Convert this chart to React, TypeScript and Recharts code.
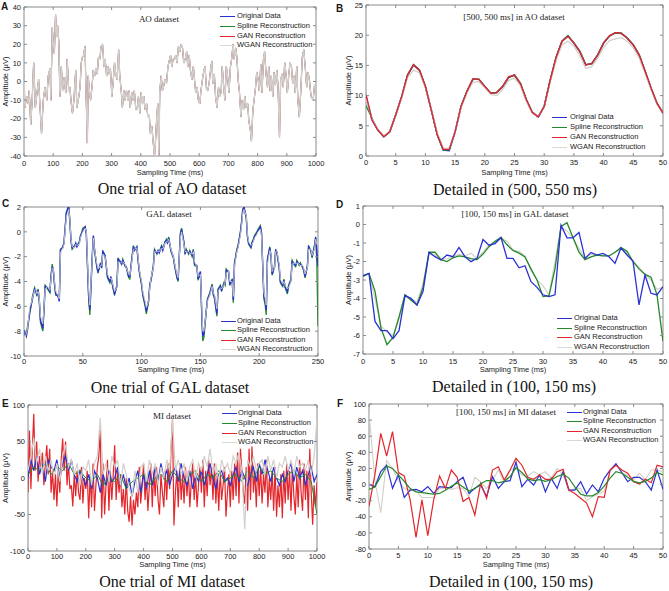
import { LineChart, Line, XAxis, YAxis, ReferenceArea } from 'recharts'

const SANS = '"Liberation Sans", Arial, sans-serif'
const SERIF = '"Liberation Serif", "Times New Roman", serif'
const INK = '#1a1a1a'
const FRAME = '#8a8a8a'
const BLUE = '#2a32d2'
const GREEN = '#24892a'
const RED = '#e3262b'
const GRAY = '#d3cfca'

// ---- AO dataset, one trial (ms, µV) ----
const aoTime = [
  0, 3, 9, 15, 18, 23, 28, 33, 39, 43,
  50, 55, 60, 66, 72, 78, 83, 89, 92, 97,
  100, 104, 108, 112, 115, 119, 123, 128, 132, 137,
  143, 148, 153, 157, 162, 166, 171, 177, 181, 186,
  192, 196, 200, 204, 209, 212, 217, 220, 224, 228,
  233, 237, 242, 246, 251, 255, 260, 264, 269, 274,
  278, 283, 287, 292, 296, 301, 305, 310, 314, 319,
  324, 328, 333, 337, 342, 346, 351, 356, 360, 364,
  369, 374, 378, 383, 388, 392, 397, 401, 406, 410,
  415, 420, 424, 429, 433, 438, 442, 447, 450, 454,
  458, 462, 465, 470, 474, 479, 483, 488, 493, 497,
  502, 506, 511, 515, 520, 524, 529, 534, 538, 543,
  547, 552, 557, 561, 566, 570, 575, 580, 584, 588,
  593, 597, 602, 606, 611, 616, 620, 625, 629, 634,
  638, 643, 647, 652, 656, 661, 666, 670, 675, 679,
  684, 688, 693, 697, 702, 707, 711, 716, 720, 725,
  729, 734, 738, 743, 747, 752, 756, 761, 766, 770,
  775, 779, 784, 788, 793, 797, 802, 806, 811, 815,
  820, 824, 829, 834, 838, 843, 847, 852, 856, 861,
  866, 870, 875, 879, 884, 888, 893, 898, 902, 907,
  911, 916, 920, 925, 929, 934, 938, 943, 948, 953,
  958, 963, 968, 973, 978, 983, 990, 995, 1000,
]
const aoAmp = [
  4, -14, -8, -12, -5, -23, -10, 10, -14, -8,
  1, -14, -28, -10, -3, -10, 3, 7, -10, 29,
  21, 15, 36, 24, 30, 22, -8, 8, -5, 2,
  -6, 12, -5, -3, -12, -17, -10, 6, -14, -10,
  -3, 10, 13, 14, 19, -3, -33, 3, -5, -10,
  -3, 6, 3, 7, 4, 13, 12, 19, 20, 8,
  12, 3, 8, 4, 7, -8, -1, 10, 4, 1,
  17, 3, -5, -14, -5, -10, -5, -10, -5, -14,
  -6, -10, -5, -15, -15, -8, -17, -6, -12, -8,
  -15, -12, -19, -18, -28, -24, -32, -40, -33, -21,
  -12, -40, -5, 3, -5, -2, 1, -1, 8, 11,
  14, 8, 12, 12, 14, 10, 19, 16, 20, 18,
  10, 12, 16, 8, 14, 6, 1, 8, 1, -6,
  -3, -10, -12, -5, 1, 6, 8, -4, -5, -1,
  5, 11, -1, 4, -8, -14, -3, -8, -6, 8,
  -3, -10, 8, 3, -6, 8, 12, 20, 12, 18,
  13, 0, -6, -19, -10, -15, -8, -14, -12, -21,
  -26, -32, -15, -10, -3, 5, 1, -5, 9, -6,
  12, 16, 4, -3, 8, -5, 3, -8, 5, -2,
  6, -3, -30, 1, 4, -3, 10, 3, -6, 4,
  10, 8, -1, 3, -6, 8, -10, -19, -5, 13,
  17, 8, -3, 5, 0, -8, -10, -2, -3,
]

// ---- AO detail, 1 ms steps ----
const aoDetailOrig = [
  9.9, 6.0, 4.3, 3.2, 4.0, 6.8, 9.8, 13.4, 15.1, 14.2,
  11.5, 7.6, 3.5, 1.0, 0.9, 4.0, 8.2, 10.7, 12.7, 12.7,
  11.5, 10.4, 10.5, 11.5, 13.0, 13.4, 12.0, 9.3, 7.2, 6.5,
  8.2, 12.5, 16.3, 19.0, 19.9, 18.7, 17.3, 15.1, 15.3, 16.7,
  18.7, 19.9, 20.4, 20.3, 19.5, 18.4, 16.7, 14.0, 11.2, 8.7, 7.1,
]
const aoDetailSpline = [
  8.3, 6.3, 4.3, 3.2, 4.0, 6.8, 9.8, 13.4, 15.1, 14.2,
  11.5, 7.6, 3.5, 1.0, 1.0, 4.0, 8.2, 10.7, 12.7, 12.7,
  11.5, 10.4, 10.5, 11.5, 13.0, 13.4, 12.0, 9.3, 7.2, 6.5,
  8.2, 12.5, 16.3, 19.0, 19.9, 18.7, 17.3, 15.1, 15.3, 16.7,
  18.7, 19.9, 20.4, 20.3, 19.5, 18.4, 16.7, 14.0, 11.2, 8.7, 7.1,
]
const aoDetailGan = [
  10.2, 6.0, 4.3, 3.2, 4.0, 6.8, 9.8, 13.4, 15.1, 14.2,
  11.5, 7.6, 3.5, 1.1, 1.1, 4.0, 8.2, 10.7, 12.8, 12.7,
  11.5, 10.4, 10.5, 11.5, 13.1, 13.4, 12.0, 9.3, 7.2, 6.5,
  8.2, 12.5, 16.3, 19.0, 19.8, 18.7, 17.3, 15.1, 15.3, 16.7,
  18.7, 19.9, 20.4, 20.3, 19.5, 18.4, 16.7, 14.0, 11.2, 8.7, 7.1,
]
const aoDetailWgan = [
  9.5, 6.2, 4.4, 3.4, 4.1, 6.7, 9.6, 13.0, 14.2, 13.8,
  11.3, 7.8, 3.8, 1.3, 1.2, 4.0, 8.0, 10.4, 12.2, 12.3,
  11.3, 10.2, 10.0, 11.0, 12.5, 12.9, 11.6, 9.0, 7.1, 6.6,
  8.1, 12.2, 15.8, 18.4, 19.0, 18.2, 16.6, 14.5, 14.8, 16.2,
  18.0, 19.1, 19.4, 19.6, 19.0, 17.9, 16.2, 13.6, 11.0, 8.6, 7.1,
]

// ---- GAL dataset, one trial ----
const galTime = [
  0, 2, 3, 5, 6, 7, 9, 10, 11, 12,
  13, 14, 16, 17, 18, 20, 22, 23, 24, 25,
  26, 27, 29, 30, 31, 33, 34, 36, 38, 39,
  40, 41, 43, 44, 45, 47, 48, 49, 50, 52,
  53, 55, 56, 58, 59, 60, 62, 63, 65, 66,
  67, 69, 71, 73, 74, 76, 77, 79, 80, 82,
  83, 84, 86, 87, 89, 90, 91, 93, 94, 96,
  97, 98, 100, 101, 103, 104, 106, 107, 108, 110,
  111, 113, 114, 115, 117, 118, 120, 121, 122, 123,
  125, 127, 128, 130, 131, 133, 134, 136, 137, 138,
  140, 141, 143, 144, 145, 147, 148, 150, 151, 152,
  153, 155, 156, 158, 160, 161, 162, 164, 165, 167,
  168, 170, 171, 172, 174, 175, 177, 178, 179, 181,
  182, 184, 185, 186, 187, 189, 190, 191, 193, 194,
  195, 196, 198, 199, 201, 202, 204, 205, 206, 207,
  209, 210, 211, 213, 214, 215, 217, 218, 220, 221,
  222, 224, 225, 227, 228, 230, 231, 232, 234, 235,
  237, 238, 239, 241, 242, 244, 245, 247, 248, 249,
  250,
]
const galOrig = [
  -7.9, -8.4, -7.9, -6.3, -5.9, -5.5, -4.6, -4.7, -5.1, -4.7,
  -5.5, -7.1, -7.8, -6.3, -4.4, -4.5, -4.8, -3.6, -2.8, -3.1,
  -4.2, -5.0, -5.2, -5.6, -1.5, -1.2, -0.9, 1.5, 2.0, 0.9,
  -0.7, -1.3, -1.2, -0.9, -1.2, -0.9, -0.4, -0.1, 0.1, 0.4,
  -0.1, -5.2, -6.3, -2.0, -0.3, -1.5, -2.8, -3.2, -2.6, -2.8,
  -1.6, -1.9, -3.6, -4.0, -3.6, -4.6, -5.0, -4.4, -2.2, -2.4,
  -2.6, -2.3, -2.7, -2.8, -3.6, -3.6, -2.8, -1.2, -1.5, -1.2,
  -2.2, -3.1, -4.2, -5.0, -5.8, -6.4, -5.5, -4.3, -3.9, -2.8,
  -1.5, -1.7, -1.5, -1.7, -1.2, -1.5, -0.8, -0.7, -0.9, -0.5,
  -1.5, -2.0, -2.6, -3.6, -3.9, -0.2, 0.2, -0.9, -1.7, -1.5,
  -1.7, -1.6, -1.9, -1.5, -2.6, -2.7, -3.8, -3.2, -6.0, -8.4,
  -8.2, -6.3, -5.5, -5.0, -4.3, -5.0, -5.2, -6.6, -4.7, -4.4,
  -4.7, -4.2, -4.2, -3.1, -3.2, -4.2, -3.9, -5.5, -2.6, -1.5,
  -1.2, -0.1, 0.7, 1.7, 2.0, 1.2, -0.3, -0.9, -1.2, -0.9,
  -0.7, -0.4, -0.1, 0.1, 0.4, -0.1, -5.2, -5.5, -6.3, -2.3,
  -1.3, -1.9, -3.4, -2.9, -1.5, -1.6, -2.8, -4.0, -4.3, -3.9,
  -4.4, -4.8, -4.4, -3.9, -2.4, -2.6, -2.7, -2.4, -2.6, -2.6,
  -2.8, -3.1, -3.6, -2.8, -1.2, -1.5, -2.0, -1.2, -0.4, -1.5,
  -2.8,
]
const galSpline = [
  -8.3, -8.2, -7.6, -6.5, -6.0, -5.3, -4.5, -4.8, -5.2, -4.6,
  -5.6, -7.3, -8.0, -6.2, -4.3, -4.6, -4.9, -3.5, -2.6, -3.2,
  -4.3, -5.1, -5.1, -5.5, -1.4, -1.3, -0.9, 1.6, 2.1, 0.8,
  -0.8, -1.4, -1.1, -1.0, -1.1, -0.8, -0.3, -0.1, 0.3, 0.4,
  -0.2, -5.4, -6.7, -2.1, -0.4, -1.4, -2.9, -3.3, -2.5, -2.9,
  -1.5, -2.0, -3.7, -4.1, -3.7, -4.7, -5.1, -4.3, -2.1, -2.5,
  -2.6, -2.2, -2.8, -2.9, -3.7, -3.8, -2.7, -1.1, -1.4, -1.3,
  -2.3, -3.2, -4.3, -5.1, -6.0, -6.6, -5.6, -4.2, -3.8, -2.7,
  -1.4, -1.8, -1.6, -1.6, -1.1, -1.4, -0.8, -0.6, -0.9, -0.4,
  -1.6, -2.1, -2.7, -3.7, -4.0, -0.1, 0.3, -0.8, -1.8, -1.4,
  -1.8, -1.5, -2.0, -1.4, -2.7, -2.8, -3.9, -3.3, -6.3, -8.8,
  -8.5, -6.4, -5.4, -4.9, -4.2, -5.1, -5.4, -6.8, -4.6, -4.3,
  -4.8, -4.1, -4.3, -3.0, -3.3, -4.3, -3.8, -5.7, -2.5, -1.4,
  -1.1, 0.0, 0.8, 1.8, 2.0, 1.1, -0.4, -1.0, -1.3, -0.8,
  -0.6, -0.3, 0.0, 0.2, 0.5, -0.2, -5.4, -5.8, -6.7, -2.2,
  -1.2, -2.0, -3.5, -2.8, -1.4, -1.7, -2.9, -4.1, -4.4, -3.8,
  -4.5, -5.0, -4.3, -3.8, -2.3, -2.7, -2.8, -2.3, -2.7, -2.5,
  -2.9, -3.2, -3.7, -2.7, -1.1, -1.6, -2.1, -1.1, -0.5, -2.5,
  -7.6,
]
const galWgan = [
  -8.7, -8.2, -7.8, -6.0, -5.8, -5.4, -4.7, -4.6, -5.0, -4.8,
  -5.4, -6.8, -7.4, -6.1, -4.6, -4.4, -4.7, -3.8, -2.9, -3.0,
  -4.0, -4.8, -5.1, -5.4, -1.7, -1.3, -1.0, 1.2, 1.8, 1.0,
  -0.6, -1.2, -1.3, -1.0, -1.1, -1.0, -0.5, -0.2, 0.0, 0.3,
  0.0, -4.8, -5.9, -2.2, -0.5, -1.4, -2.6, -3.0, -2.7, -2.7,
  -1.8, -2.0, -3.4, -3.8, -3.7, -4.4, -4.8, -4.5, -2.4, -2.5,
  -2.5, -2.4, -2.6, -2.9, -3.4, -3.5, -2.9, -1.4, -1.4, -1.3,
  -2.0, -3.0, -4.0, -4.8, -5.6, -6.1, -5.6, -4.5, -3.7, -2.9,
  -1.6, -1.6, -1.6, -1.6, -1.3, -1.4, -0.9, -0.8, -0.8, -0.6,
  -1.4, -2.0, -2.5, -3.4, -3.7, -0.5, 0.0, -1.0, -1.6, -1.6,
  -1.6, -1.7, -1.8, -1.6, -2.4, -2.8, -3.6, -3.4, -5.7, -8.0,
  -8.0, -6.4, -5.6, -5.1, -4.4, -4.9, -5.1, -6.2, -4.8, -4.5,
  -4.6, -4.3, -4.1, -3.3, -3.2, -4.0, -4.0, -5.2, -2.8, -1.6,
  -1.3, -0.3, 0.5, 1.5, 1.8, 1.3, -0.2, -0.8, -1.1, -1.0,
  -0.8, -0.5, -0.2, 0.0, 0.2, -0.3, -4.9, -5.3, -5.9, -2.6,
  -1.5, -1.8, -3.2, -3.0, -1.6, -1.5, -2.6, -3.8, -4.2, -4.0,
  -4.3, -4.6, -4.5, -4.0, -2.6, -2.5, -2.6, -2.5, -2.6, -2.7,
  -2.7, -3.0, -3.4, -2.9, -1.4, -1.4, -1.9, -1.4, -0.6, -1.0,
  -0.8,
]

// ---- GAL detail (100–150 ms), 1 ms steps ----
const galDetailOrig = [
  -2.77, -2.64, -5.24, -5.74, -5.74, -6.17, -5.74, -3.84, -3.99, -4.35,
  -3.63, -1.51, -1.74, -1.92, -1.65, -1.74, -1.24, -1.74, -2.01, -1.83,
  -0.81, -1.12, -1.03, -0.7, -1.83, -1.83, -2.34, -2.23, -3.09, -3.4,
  -3.8, -3.9, -3.8, -0.04, -0.72, -0.72, -0.43, -1.83, -1.51, -1.65,
  -1.56, -1.74, -2.1, -1.26, -1.65, -1.98, -4.35, -2.73, -3.72, -3.81, -3.36,
]
const galDetailSpline = [
  -2.8, -2.65, -3.6, -5.6, -6.5, -6.1, -5.0, -3.8, -4.1, -4.35,
  -3.4, -1.5, -1.5, -1.9, -2.0, -1.8, -1.7, -1.75, -1.85, -1.9,
  -1.6, -1.2, -0.9, -0.7, -1.1, -1.4, -1.55, -1.75, -2.4, -3.0,
  -3.9, -3.85, -2.4, -0.1, 0.1, -0.7, -1.5, -1.9, -1.75, -1.65,
  -1.7, -1.7, -1.5, -1.25, -1.45, -2.0, -2.4, -2.7, -2.85, -3.8, -6.3,
]
const galDetailWgan = [
  -2.75, -2.65, -4.0, -5.5, -5.8, -6.0, -5.1, -3.9, -4.0, -4.2,
  -3.2, -1.5, -1.65, -1.9, -1.85, -1.75, -1.6, -1.7, -1.55, -1.85,
  -1.5, -1.1, -0.95, -0.75, -0.9, -1.4, -1.45, -1.7, -2.5, -3.0,
  -3.3, -3.8, -2.0, -0.15, -0.35, -0.75, -1.3, -1.85, -1.6, -1.65,
  -1.7, -1.7, -1.5, -1.3, -1.6, -2.0, -2.3, -2.7, -3.0, -3.5, -3.4,
]

// ---- MI dataset, one trial ----
// GAN every 5 ms, WGAN and original every 10 ms, spline every 20 ms
const miGan = [
  -20, 65, -15, 40, 88, 10, 50, -5, 30, 15,
  35, -10, 20, 45, 5, 40, -20, 10, -30, 5,
  -39, 15, -20, 25, 54, 10, 50, -10, 20, -15,
  -10, -39, 5, -25, 10, -20, -30, 15, -35, 0,
  -15, 10, -55, 5, -40, 20, -45, -10, 15, 30,
  66, -55, 20, -50, -10, 25, -45, 10, -30, 5,
  45, -30, 10, -20, 5, -40, -15, -50, 0, -45,
  -60, -25, -65, -30, -50, -20, -40, 15, -35, -10,
  20, -30, 0, -45, -10, 20, -40, 10, -25, 15,
  -30, -50, 5, -20, -40, 10, -30, 20, -15, 40,
  80, -65, -20, 10, -40, 20, -30, 5, -35, 15,
  -25, 10, -40, -5, 20, -30, 5, -40, -10, 15,
  -20, 25, -40, 10, -25, 25, -10, 15, -30, 20,
  -35, 5, -45, 10, -30, -10, 15, -53, -20, 5,
  -40, 10, -30, 20, -25, 35, -35, 40, 10, -20,
  -35, 15, -45, 40, -30, 43, -20, 10, -40, 20,
  -25, 15, -35, 5, -20, 25, -40, 0, -30, 10,
  -45, 15, -53, -10, -40, 5, -55, 10, -35, 20,
  -30, 10, -45, 15, -25, -50, 5, -40, 25, -20,
  -45, 20, -30, 10, -55, 40, -20, -64, -10, -40,
  -5,
]
const miWgan = [
  10, 30, 55, 20, 40, 5, 30, 10, 25, 0,
  20, -5, 30, 45, 15, 25, 5, 20, -10, 15,
  10, 25, -10, 20, 30, 82, 5, 20, -5, 30,
  15, 25, -10, 20, 5, -15, -25, 10, -20, 15,
  20, -5, 25, 5, 20, -10, 15, 0, 25, 10,
  80, 10, 25, 5, 20, -5, 15, 25, 0, 20,
  10, 30, 15, 40, 5, 20, -5, 25, 10, 20,
  5, 30, 20, 35, 10, -70, 25, 15, 30, 10,
  20, 25, 5, 30, 10, 25, 0, 20, 15, 30,
  10, 25, 5, 30, 15, 20, 10, 25, 5, 30,
  80,
]
const miOrig = [
  0, 25, 10, 30, 5, 20, -5, 25, 15, 10,
  25, 0, 20, 30, 10, 25, 5, -5, 10, 0,
  -10, 5, -15, 10, 0, -20, 5, -10, 10, -5,
  0, 15, -10, 5, -15, 0, -25, -5, 10, -20,
  5, -15, 10, -10, 15, -5, 20, 0, 10, -10,
  5, 15, -5, 20, 0, -10, 10, -15, 5, -5,
  10, -10, 5, 20, 0, -15, 5, 10, -5, 0,
  -10, 5, 15, -5, 10, 0, -10, 5, 15, -5,
  20, 5, 25, 10, -5, 15, 0, -10, 5, -5,
  10, 20, -5, 15, 0, 10, -10, 5, 15, -5,
  5,
]
const miSpline = [
  5, 15, 10, 20, 5, 15, 10, 20, 5, 10,
  0, -5, 5, -10, 0, -5, 5, -15, -5, 0,
  5, -10, 0, 5, -5, 10, 0, -5, 5, 10,
  -5, 5, 0, 10, -5, 0, 5, -5, 10, 0,
  15, 5, 10, 0, -5, 5, 10, 0, 5, -5,
  -50,
]

// ---- MI detail (100–150 ms), 1 ms steps ----
const miDetailOrig = [
  0.3, -2.6, 16, 24, -4.7, 12, -16, -6.8, -6, -9,
  -2.6, -11, -2.6, -3.4, -3.9, 3.6, 9, -11, -4.7, -0.5,
  -15, 9.8, -4.7, 3.6, 4.8, 28, -2.6, 6.5, -0.5, 12,
  -9, 7.7, -4.7, 16, -6.8, -6.8, 3.6, -11.7, -0.5, -9,
  7.7, 18, 26, 15, 3.6, 9, 9, 3.6, -6.8, 18, -6,
]
const miDetailSpline = [
  -6, -3, 10, 23, 20, 12, 4, -5, -9, -10,
  -11, -12, -11, -7, -2, 2, -3, -8, -5, 1,
  5, 5, 2, 4, 10, 21, 15, 7, 5, 6,
  4, 6, 10, 13, 8, -3, -12, -14, -14, -10,
  -2, 8, 16, 14, 9, 4, 2, 4, 8, 15, 12,
]
const miDetailGan = [
  -27, 12, 63.6, 35.4, 65.7, 14.8, 10.6, -19, -65.5, -19,
  -63.4, -19, 10.6, -4.7, 18, 9, -21, -16, -37.8, 1.5,
  -17, 18, 22, 5.7, 18, 32.6, 24, 9, 6.5, 12,
  6.5, 6.5, 16, 19, -6.8, -11, -17, -23, -40, -15,
  -16, 18, 24, 18, 14, 3.6, 0.7, 6.5, 2.3, 24, 22,
]
const miDetailWgan = [
  90, 5, -35, 30, 20, 5, -5, -7, -8, -16,
  -16, -16, -5, -4, -6, -4, -5, -15, 9, 3,
  -5, 5, 18, 3, 18, 20, 12, 10, 16, 12,
  16, 8, 20, 12, -8, -5, -5, -20, -15, -12,
  -8, 15, 25, 14, 12, 6, 14, 6, 18, 18, 16,
]

const detailMs = Array.from({ length: 51 }, (_, i) => i)

const zip = (times: number[], vals: number[]) =>
  vals.slice(0, times.length).map((v, i) => ({ t: times[i], v }))
const stepped = (vals: number[], step: number) => vals.map((v, i) => ({ t: i * step, v }))

const LEGEND_ITEMS = [
  { name: 'Original Data', color: BLUE },
  { name: 'Spline Reconstruction', color: GREEN },
  { name: 'GAN Reconstruction', color: RED },
  { name: 'WGAN Reconstruction', color: '#d8d8d8' },
]

type Series = { key: string; data: { t: number; v: number }[]; color: string; width: number; round?: boolean }
type PanelCfg = {
  letter: string
  chart: { left: number; top: number; w: number; h: number }
  plot: { l: number; r: number; t: number; b: number }
  xDomain: [number, number]
  xTicks: number[]
  yDomain: [number, number]
  yTicks: number[]
  xTickDy: number
  xLabelOff: number
  yLabelOff: number
  title: string
  titleAt: [number, number]
  legend: { x1: number; x2: number; tx: number; rows: number[] }
  caption: string
  captionAt: [number, number]
  letterAt: [number, number]
  lines: Series[]
}

const range = (a: number, b: number, s: number) => {
  const out: number[] = []
  for (let v = a; v <= b + 1e-9; v += s) out.push(v)
  return out
}

const panels: PanelCfg[] = [
  {
    letter: 'A', letterAt: [1, 1],
    chart: { left: 0, top: 0, w: 335, h: 180 },
    plot: { l: 24, r: 316, t: 7, b: 156 },
    xDomain: [0, 1000], xTicks: range(0, 1000, 100),
    yDomain: [-40, 40], yTicks: range(-40, 40, 10),
    xTickDy: 10, xLabelOff: 5, yLabelOff: 5,
    title: 'AO dataset', titleAt: [159, 19],
    legend: { x1: 220, x2: 235, tx: 237, rows: [16, 26, 36, 45] },
    caption: 'One trial of AO dataset', captionAt: [172, 189],
    lines: [
      { key: 'o', data: zip(aoTime, aoAmp), color: BLUE, width: 0.6 },
      { key: 's', data: zip(aoTime, aoAmp), color: GREEN, width: 0.6 },
      { key: 'g', data: zip(aoTime, aoAmp), color: RED, width: 0.8 },
      { key: 'w', data: zip(aoTime, aoAmp), color: GRAY, width: 1.4, round: true },
    ],
  },
  {
    letter: 'B', letterAt: [336, 3],
    chart: { left: 335, top: 0, w: 334, h: 180 },
    plot: { l: 366, r: 663, t: 5, b: 156 },
    xDomain: [0, 50], xTicks: range(0, 50, 5),
    yDomain: [0, 25], yTicks: range(0, 25, 5),
    xTickDy: 9, xLabelOff: 5, yLabelOff: 13,
    title: '[500, 500 ms] in AO dataset', titleAt: [514, 17],
    legend: { x1: 552, x2: 567, tx: 570, rows: [117, 127, 137, 147] },
    caption: 'Detailed in (500, 550 ms)', captionAt: [515, 190],
    lines: [
      { key: 'o', data: zip(detailMs, aoDetailOrig), color: BLUE, width: 1.6 },
      { key: 's', data: zip(detailMs, aoDetailSpline), color: GREEN, width: 1.3 },
      { key: 'w', data: zip(detailMs, aoDetailWgan), color: GRAY, width: 1.3 },
      { key: 'g', data: zip(detailMs, aoDetailGan), color: RED, width: 1.3 },
    ],
  },
  {
    letter: 'C', letterAt: [2, 198],
    chart: { left: 0, top: 195, w: 335, h: 180 },
    plot: { l: 24, r: 318, t: 207, b: 356 },
    xDomain: [0, 250], xTicks: range(0, 250, 50),
    yDomain: [-10, 2], yTicks: range(-10, 2, 2),
    xTickDy: 7.5, xLabelOff: 3.3, yLabelOff: 5,
    title: 'GAL dataset', titleAt: [169, 214],
    legend: { x1: 221, x2: 236, tx: 237, rows: [321, 330, 340, 349] },
    caption: 'One trial of GAL dataset', captionAt: [170, 388],
    lines: [
      { key: 's', data: zip(galTime, galSpline), color: GREEN, width: 1.3 },
      { key: 'o', data: zip(galTime, galOrig), color: BLUE, width: 1.4 },
      { key: 'w', data: zip(galTime, galWgan), color: GRAY, width: 0.9 },
    ],
  },
  {
    letter: 'D', letterAt: [336, 199],
    chart: { left: 335, top: 195, w: 334, h: 180 },
    plot: { l: 363, r: 663, t: 206, b: 354 },
    xDomain: [0, 50], xTicks: range(0, 50, 5),
    yDomain: [-7, 1], yTicks: range(-7, 1, 1),
    xTickDy: 10, xLabelOff: 3.3, yLabelOff: 13,
    title: '[100, 150 ms] in GAL dataset', titleAt: [515, 214],
    legend: { x1: 557, x2: 572, tx: 574, rows: [318, 328, 337, 347] },
    caption: 'Detailed in (100, 150 ms)', captionAt: [514, 387],
    lines: [
      { key: 'w', data: zip(detailMs, galDetailWgan), color: GRAY, width: 1.2 },
      { key: 's', data: zip(detailMs, galDetailSpline), color: GREEN, width: 1.3 },
      { key: 'o', data: zip(detailMs, galDetailOrig), color: BLUE, width: 1.3 },
    ],
  },
  {
    letter: 'E', letterAt: [2, 398],
    chart: { left: 0, top: 390, w: 335, h: 180 },
    plot: { l: 28, r: 317, t: 405, b: 551 },
    xDomain: [0, 1000], xTicks: range(0, 1000, 100),
    yDomain: [-100, 100], yTicks: range(-100, 100, 50),
    xTickDy: 7.5, xLabelOff: 2.6, yLabelOff: 5,
    title: 'MI dataset', titleAt: [172, 416],
    legend: { x1: 222, x2: 237, tx: 238, rows: [413, 423, 433, 442] },
    caption: 'One trial of MI dataset', captionAt: [172, 582],
    lines: [
      { key: 'g', data: stepped(miGan, 5), color: RED, width: 1.2 },
      { key: 'o', data: stepped(miOrig, 10), color: BLUE, width: 1.2 },
      { key: 's', data: stepped(miSpline, 20), color: GREEN, width: 1 },
      { key: 'w', data: stepped(miWgan, 10), color: GRAY, width: 1.2 },
    ],
  },
  {
    letter: 'F', letterAt: [337, 398],
    chart: { left: 335, top: 390, w: 334, h: 180 },
    plot: { l: 369, r: 663, t: 404, b: 549 },
    xDomain: [0, 50], xTicks: range(0, 50, 5),
    yDomain: [-80, 100], yTicks: range(-80, 100, 20),
    xTickDy: 9, xLabelOff: 2.8, yLabelOff: 13,
    title: '[100, 150 ms] in MI dataset', titleAt: [506, 412],
    legend: { x1: 567, x2: 582, tx: 583, rows: [412, 421, 431, 440] },
    caption: 'Detailed in (100, 150 ms)', captionAt: [511, 582],
    lines: [
      { key: 'w', data: zip(detailMs, miDetailWgan), color: GRAY, width: 1.1 },
      { key: 'o', data: zip(detailMs, miDetailOrig), color: BLUE, width: 1.2 },
      { key: 'g', data: zip(detailMs, miDetailGan), color: RED, width: 1.2 },
      { key: 's', data: zip(detailMs, miDetailSpline), color: GREEN, width: 1.2 },
    ],
  },
]

function Panel({ p }: { p: PanelCfg }) {
  const { chart, plot } = p
  const plotW = plot.r - plot.l
  const plotH = plot.b - plot.t

  const xTick = (props: any) => {
    const { x, y, payload } = props
    return (
      <g>
        <line x1={x} x2={x} y1={y} y2={y - 3} stroke={FRAME} />
        <line x1={x} x2={x} y1={y - plotH} y2={y - plotH + 3} stroke={FRAME} />
        <text x={x} y={y + p.xTickDy} textAnchor="middle" fontSize={7.5} fontFamily={SANS} fill={INK}>
          {payload.value}
        </text>
      </g>
    )
  }
  const yTick = (props: any) => {
    const { x, y, payload } = props
    return (
      <g>
        <line x1={x} x2={x + 3} y1={y} y2={y} stroke={FRAME} />
        <line x1={x + plotW} x2={x + plotW - 3} y1={y} y2={y} stroke={FRAME} />
        <text x={x - 3} y={y + 2.7} textAnchor="end" fontSize={7.5} fontFamily={SANS} fill={INK}>
          {payload.value}
        </text>
      </g>
    )
  }

  return (
    <div style={{ position: 'absolute', left: chart.left, top: chart.top, width: chart.w, height: chart.h }}>
      <LineChart
        width={chart.w}
        height={chart.h}
        margin={{ top: plot.t - chart.top, right: chart.left + chart.w - plot.r, left: 0, bottom: 0 }}
      >
        <XAxis
          type="number" dataKey="t" domain={p.xDomain} ticks={p.xTicks} interval={0}
          allowDataOverflow height={chart.top + chart.h - plot.b}
          tickSize={0} tickMargin={0} tickLine={false} axisLine={false} tick={xTick}
          label={{ value: 'Sampling Time (ms)', position: 'insideBottom', offset: p.xLabelOff, fontSize: 7.5, fontFamily: SANS, fill: INK }}
        />
        <YAxis
          type="number" domain={p.yDomain} ticks={p.yTicks} interval={0}
          allowDataOverflow width={plot.l - chart.left}
          tickSize={0} tickMargin={0} tickLine={false} axisLine={false} tick={yTick}
          label={{
            value: 'Amplitude (μV)', angle: -90, position: 'insideLeft', offset: p.yLabelOff,
            fontSize: 7.5, fontFamily: SANS, fill: INK, style: { textAnchor: 'middle' },
          }}
        />
        <ReferenceArea
          x1={p.xDomain[0]} x2={p.xDomain[1]} y1={p.yDomain[0]} y2={p.yDomain[1]}
          fill="none" stroke={FRAME} strokeWidth={1}
        />
        {p.lines.map((s) => (
          <Line
            key={s.key} data={s.data} dataKey="v" type="linear"
            stroke={s.color} strokeWidth={s.width} dot={false} activeDot={false}
            strokeLinejoin={s.round ? 'round' : 'miter'}
            isAnimationActive={false}
          />
        ))}
      </LineChart>
    </div>
  )
}

function Overlay({ p }: { p: PanelCfg }) {
  const { legend } = p
  return (
    <>
      <div style={{
        position: 'absolute', left: p.letterAt[0], top: p.letterAt[1], fontFamily: SANS,
        fontWeight: 'bold', fontSize: 10, lineHeight: '11px', color: INK,
      }}>{p.letter}</div>
      <div style={{
        position: 'absolute', left: p.titleAt[0] - 100, top: p.titleAt[1] - 6, width: 200,
        textAlign: 'center', fontFamily: SERIF, fontSize: 9, lineHeight: '12px', color: INK,
      }}>{p.title}</div>
      {LEGEND_ITEMS.map((it, i) => (
        <div key={it.name} style={{ position: 'absolute', left: legend.x1, top: legend.rows[i] - 5, height: 10, display: 'flex', alignItems: 'center' }}>
          <span style={{ display: 'inline-block', width: legend.x2 - legend.x1, height: 0, borderTop: `1.5px solid ${it.color}` }} />
          <span style={{
            marginLeft: legend.tx - legend.x2, fontFamily: SANS, fontSize: 7.5, lineHeight: '10px',
            color: INK, whiteSpace: 'nowrap',
          }}>{it.name}</span>
        </div>
      ))}
      <div style={{
        position: 'absolute', left: p.captionAt[0] - 150, top: p.captionAt[1] - 10, width: 300,
        textAlign: 'center', fontFamily: SERIF, fontSize: 16, lineHeight: '20px', color: '#111',
      }}>{p.caption}</div>
    </>
  )
}

export default function App() {
  return (
    <div style={{ position: 'absolute', left: 0, top: 0, width: 669, height: 591, background: '#fff', overflow: 'hidden' }}>
      {panels.map((p) => <Panel key={p.letter} p={p} />)}
      {panels.map((p) => <Overlay key={p.letter + 'o'} p={p} />)}
    </div>
  )
}
